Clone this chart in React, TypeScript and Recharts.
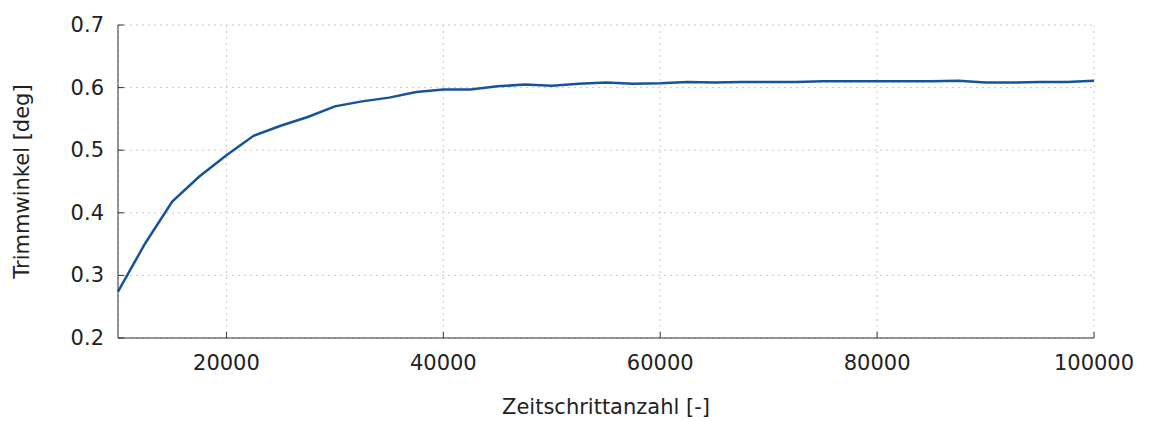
import { LineChart, Line, XAxis, YAxis, CartesianGrid } from 'recharts';

// Zeitschritte (alle 2500) und Trimmwinkel in deg
const steps = [
  10000, 12500, 15000, 17500, 20000, 22500, 25000, 27500, 30000, 32500,
  35000, 37500, 40000, 42500, 45000, 47500, 50000, 52500, 55000, 57500,
  60000, 62500, 65000, 67500, 70000, 72500, 75000, 77500, 80000, 82500,
  85000, 87500, 90000, 92500, 95000, 97500, 100000,
];
const trimAngle = [
  0.274, 0.351, 0.418, 0.458, 0.492, 0.523, 0.539, 0.553, 0.570, 0.578,
  0.584, 0.593, 0.597, 0.597, 0.602, 0.605, 0.603, 0.606, 0.608, 0.606,
  0.607, 0.609, 0.608, 0.609, 0.609, 0.609, 0.610, 0.610, 0.610, 0.610,
  0.610, 0.611, 0.608, 0.608, 0.609, 0.609, 0.611,
];
const xTicks = [20000, 40000, 60000, 80000, 100000];
const yTicks = [0.2, 0.3, 0.4, 0.5, 0.6, 0.7];

const data = steps.map((s, i) => ({ step: s, angle: trimAngle[i] }));

const FONT = 'DejaVu Sans, sans-serif';
const FS = 21;
const AXIS = '#333333';
const TICK_LEN = 6;

function BottomTick({ x, y, payload }: any) {
  return (
    <g>
      <line x1={x} y1={y} x2={x} y2={y - TICK_LEN} stroke={AXIS} />
      <text x={x} y={y + 25} textAnchor="middle" dominantBaseline="central"
        fontFamily={FONT} fontSize={FS} fill="#222">
        {payload.value}
      </text>
    </g>
  );
}

function TopTick({ x, y }: any) {
  return <line x1={x} y1={y} x2={x} y2={y + TICK_LEN} stroke={AXIS} />;
}

function LeftTick({ x, y, payload }: any) {
  return (
    <g>
      <line x1={x} y1={y} x2={x + TICK_LEN} y2={y} stroke={AXIS} />
      <text x={x - 14} y={y} textAnchor="end" dominantBaseline="central"
        fontFamily={FONT} fontSize={FS} fill="#222">
        {Number(payload.value).toFixed(1)}
      </text>
    </g>
  );
}

function RightTick({ x, y }: any) {
  return <line x1={x} y1={y} x2={x - TICK_LEN} y2={y} stroke={AXIS} />;
}

export default function App() {
  return (
    <LineChart
      width={1135}
      height={413}
      data={data}
      margin={{ top: 17, right: 49, bottom: 53, left: 50 }}
    >
      <CartesianGrid stroke="#c8c8c8" strokeDasharray="2 4" />
      <XAxis
        dataKey="step"
        type="number"
        domain={[10000, 100000]}
        ticks={xTicks}
        height={30}
        tickSize={0}
        tickMargin={0}
        tick={<BottomTick />}
        stroke={AXIS}
        interval={0}
        label={{
          content: ({ viewBox }: any) => (
            <text x={viewBox.x + viewBox.width / 2} y={399} textAnchor="middle"
              dominantBaseline="central" fontFamily={FONT} fontSize={FS} fill="#222">
              Zeitschrittanzahl [-]
            </text>
          ),
        }}
      />
      <XAxis
        xAxisId="top"
        orientation="top"
        type="number"
        domain={[10000, 100000]}
        ticks={xTicks}
        height={0}
        tickSize={0}
        tickMargin={0}
        tick={<TopTick />}
        stroke={AXIS}
        interval={0}
      />
      <YAxis
        type="number"
        domain={[0.2, 0.7]}
        ticks={yTicks}
        width={60}
        tickSize={0}
        tickMargin={0}
        tick={<LeftTick />}
        stroke={AXIS}
        interval={0}
        label={{
          content: ({ viewBox }: any) => {
            const cy = viewBox.y + viewBox.height / 2;
            return (
              <text x={14} y={cy} textAnchor="middle" dominantBaseline="central"
                transform={`rotate(-90 14 ${cy})`} fontFamily={FONT} fontSize={FS} fill="#222">
                Trimmwinkel [deg]
              </text>
            );
          },
        }}
      />
      <YAxis
        yAxisId="right"
        orientation="right"
        type="number"
        domain={[0.2, 0.7]}
        ticks={yTicks}
        width={0}
        tickSize={0}
        tickMargin={0}
        tick={<RightTick />}
        stroke={AXIS}
        interval={0}
      />
      <Line
        type="linear"
        dataKey="angle"
        stroke="#17539a"
        strokeWidth={2.5}
        dot={false}
        isAnimationActive={false}
      />
    </LineChart>
  );
}
